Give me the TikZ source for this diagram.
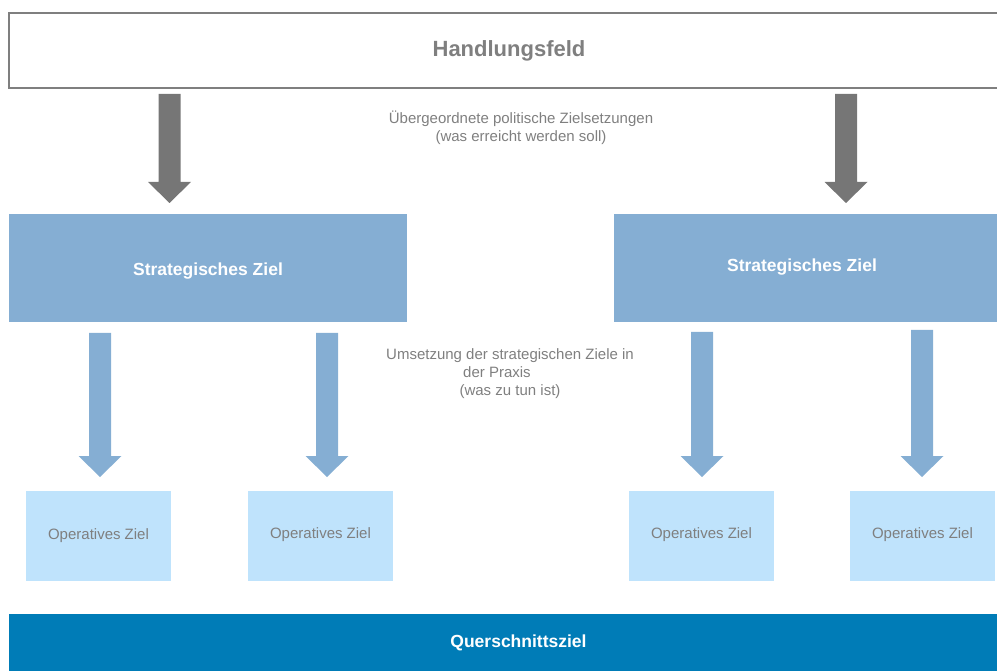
\documentclass[tikz,border=0pt]{standalone}
\usepackage{fontspec}
\setmainfont{Liberation Sans}
\definecolor{grayarrow}{HTML}{767676}
\definecolor{stratblue}{HTML}{85AED3}
\definecolor{opblue}{HTML}{BFE3FC}
\definecolor{barblue}{HTML}{007CB7}
\definecolor{textgray}{HTML}{7F7F7F}
\tikzset{
  pics/blockarrow/.style n args={3}{code={
    \fill[#3] (-11,0) -- (11,0) -- (11,#2) -- (21.5,#2) -- (0,#1) -- (-21.5,#2) -- (-11,#2) -- cycle;}},
  hfbox/.style={draw=textgray, line width=2pt, fill=white, inner sep=0pt,
    text=textgray, font=\fontsize{22}{26}\selectfont\bfseries},
  stratbox/.style={fill=stratblue, inner sep=0pt, text=white,
    font=\fontsize{17.5}{21}\selectfont\bfseries, minimum height=108pt,
    text height=12.7pt, text depth=3.7pt},
  opbox/.style={fill=opblue, inner sep=0pt, text=textgray,
    font=\fontsize{15}{18}\selectfont, minimum width=145pt, minimum height=90pt,
    text height=10.9pt, text depth=3.2pt},
  barbox/.style={fill=barblue, inner sep=0pt, text=white,
    font=\fontsize{17.5}{21}\selectfont\bfseries, minimum height=57pt},
  note/.style={text=textgray, align=center, inner sep=0pt,
    font=\fontsize{15}{18}\selectfont}
}
\begin{document}
\begin{tikzpicture}[x=1pt,y=-1pt]
\useasboundingbox (0,0) rectangle (997,671);
\clip (0,0) rectangle (997,671);
% top field
\node[hfbox, minimum width=1000pt, minimum height=75pt] (hf) at (509,50.5) {\raisebox{2.5pt}{Handlungsfeld}};
% gray arrows
\pic at (169.5,94) {blockarrow={109}{88}{grayarrow}};
\pic at (846,94) {blockarrow={109}{88}{grayarrow}};
\node[note] (n1) at (521,128) {Übergeordnete politische Zielsetzungen\\(was erreicht werden soll)};
% strategic goals
\node[stratbox, minimum width=398pt] (s1) at (208,268) {\raisebox{-3pt}{Strategisches Ziel}};
\node[stratbox, minimum width=383pt] (s2) at (805.5,268) {\hspace*{-7pt}\raisebox{1pt}{Strategisches Ziel}};
% blue arrows
\pic at (100,333) {blockarrow={144}{123}{stratblue}};
\pic at (327,333) {blockarrow={144}{123}{stratblue}};
\pic at (702,332) {blockarrow={145}{124}{stratblue}};
\pic at (922,330) {blockarrow={147}{126}{stratblue}};
\node[note] (n2) at (510,374) {Umsetzung der strategischen Ziele in\\der Praxis\hspace*{26pt}\mbox{}\\(was zu tun ist)};
% operative goals
\node[opbox] (o1) at (98.5,536) {Operatives Ziel};
\node[opbox] (o2) at (320.5,536) {\raisebox{1pt}{Operatives Ziel}};
\node[opbox] (o3) at (701.5,536) {\raisebox{1pt}{Operatives Ziel}};
\node[opbox] (o4) at (922.5,536) {\raisebox{1pt}{Operatives Ziel}};
% cross-cutting goal
\node[barbox, minimum width=988pt] (q) at (503,642.5) {\hspace*{31pt}Querschnittsziel};
\end{tikzpicture}
\end{document}
